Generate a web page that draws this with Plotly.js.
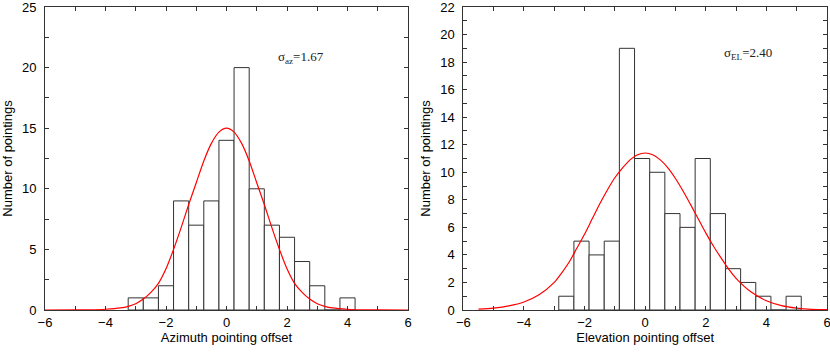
<!DOCTYPE html>
<html>
<head>
<meta charset="utf-8">
<script src="https://cdn.plot.ly/plotly-3.0.1.min.js"></script>
<style>
  html, body { margin: 0; padding: 0; background: #fff; }
  #chart { width: 830px; height: 353px; }
</style>
</head>
<body>
<div id="chart"></div>
<script>
// histogram bin centres and counts
var az_bins = [-3, -2.5, -2, -1.5, -1, -0.5, 0, 0.5, 1, 1.5, 2, 2.5, 3, 3.5, 4];
var az_counts = [1, 1, 2, 9, 7, 9, 14, 20, 10, 7, 6, 4, 2, 0, 1];

var el_bins = [-2.6, -2.1, -1.6, -1.1, -0.6, -0.1, 0.4, 0.9, 1.4, 1.9, 2.4, 2.9, 3.4, 3.9, 4.4, 4.9];
var el_counts = [1, 5, 4, 5, 19, 11, 10, 7, 6, 11, 7, 3, 2, 1, 0, 1];

// fitted curves
var az_fit_x = [-6, -5, -4.5, -4, -3.5, -3.25, -3, -2.75, -2.5, -2.25, -2, -1.75, -1.5, -1.25, -1, -0.75, -0.5, -0.25, 0,
                0.25, 0.5, 0.75, 1, 1.25, 1.5, 1.75, 2, 2.25, 2.5, 2.75, 3, 3.25, 3.5, 4, 4.5, 5, 6];
var az_fit_y = [0, 0.01, 0.02, 0.06, 0.17, 0.3, 0.52, 0.9, 1.45, 2.2, 3.4, 5.0, 6.8, 8.7, 10.5, 12.3, 13.75, 14.68, 15,
                14.68, 13.75, 12.3, 10.5, 8.7, 6.8, 5.0, 3.4, 2.2, 1.45, 0.9, 0.52, 0.3, 0.17, 0.06, 0.02, 0.01, 0];

var el_fit_x = [-5.5, -5, -4.5, -4, -3.5, -3, -2.75, -2.5, -2.25, -2, -1.75, -1.5, -1.25, -1, -0.75, -0.5, -0.25, 0,
                0.25, 0.5, 0.75, 1, 1.25, 1.5, 1.75, 2, 2.25, 2.5, 2.75, 3, 3.5, 4, 4.5, 5, 5.5, 6];
var el_fit_y = [0.06, 0.14, 0.3, 0.58, 1.1, 2.0, 2.7, 3.5, 4.5, 5.5, 6.6, 7.7, 8.7, 9.6, 10.3, 10.9, 11.27, 11.4,
                11.27, 10.9, 10.32, 9.55, 8.64, 7.65, 6.63, 5.6, 4.65, 3.8, 2.98, 2.3, 1.3, 0.67, 0.32, 0.14, 0.05, 0.02];

// tick labels
var x_tickvals = [-6, -5, -4, -3, -2, -1, 0, 1, 2, 3, 4, 5, 6];
var x_ticktext = ['\u22126', '', '\u22124', '', '\u22122', '', '0', '', '2', '', '4', '', '6'];
var az_y_tickvals = [0, 2.5, 5, 7.5, 10, 12.5, 15, 17.5, 20, 22.5, 25];
var az_y_ticktext = ['0', '', '5', '', '10', '', '15', '', '20', '', '25'];
var el_y_tickvals = [0, 1, 2, 3, 4, 5, 6, 7, 8, 9, 10, 11, 12, 13, 14, 15, 16, 17, 18, 19, 20, 21, 22];
var el_y_ticktext = ['0', '', '2', '', '4', '', '6', '', '8', '', '10', '', '12', '', '14', '', '16', '', '18', '', '20', '', '22'];

var barStyle = { color: '#ffffff', line: { color: '#333333', width: 1 } };
var fitStyle = { color: '#ff0000', width: 1.2, shape: 'spline', smoothing: 0.8 };

var data = [
    { type: 'bar', x: az_bins, y: az_counts, width: 0.5, marker: barStyle,
      xaxis: 'x', yaxis: 'y' },
    { type: 'scatter', mode: 'lines', x: az_fit_x, y: az_fit_y, line: fitStyle,
      xaxis: 'x', yaxis: 'y' },
    { type: 'bar', x: el_bins, y: el_counts, width: 0.5, marker: barStyle,
      xaxis: 'x2', yaxis: 'y2' },
    { type: 'scatter', mode: 'lines', x: el_fit_x, y: el_fit_y, line: fitStyle,
      xaxis: 'x2', yaxis: 'y2' }
];

var font = { family: 'Liberation Sans, Arial, sans-serif', size: 13, color: '#000' };

function xAxis(domain, anchor, title) {
    return {
        domain: domain, anchor: anchor, range: [-6, 6],
        tickmode: 'array', tickvals: x_tickvals, ticktext: x_ticktext,
        ticks: 'inside', ticklen: 4, tickcolor: '#333', mirror: 'allticks',
        showline: true, linecolor: '#333', linewidth: 1,
        showgrid: false, zeroline: false, ticklabelstandoff: 0,
        ticklabeloverflow: 'allow',
        tickfont: font,
        title: { text: title, font: font, standoff: 0 }
    };
}

function yAxis(range, vals, text, anchor) {
    return {
        domain: [0, 1], anchor: anchor, range: range,
        tickmode: 'array', tickvals: vals, ticktext: text,
        ticks: 'inside', ticklen: 4, tickcolor: '#333', mirror: 'allticks',
        showline: true, linecolor: '#333', linewidth: 1,
        showgrid: false, zeroline: false, ticklabelstandoff: 5,
        ticklabeloverflow: 'allow',
        tickfont: font,
        title: { text: 'Number of pointings', font: font, standoff: 6 }
    };
}

var layout = {
    width: 830, height: 353,
    margin: { l: 45, r: 3, t: 7, b: 43 },
    paper_bgcolor: '#fff', plot_bgcolor: '#fff',
    showlegend: false, bargap: 0,
    xaxis: xAxis([0, 0.4642], 'y', 'Azimuth pointing offset'),
    yaxis: yAxis([0, 25], az_y_tickvals, az_y_ticktext, 'x'),
    xaxis2: xAxis([0.5349, 1], 'y2', 'Elevation pointing offset'),
    yaxis2: yAxis([0, 22], el_y_tickvals, el_y_ticktext, 'x2'),
    annotations: [
        { xref: 'x', yref: 'y', x: 1.64, y: 20.8, xanchor: 'left', yanchor: 'middle',
          text: '\u03c3<sub>az</sub>=1.67', showarrow: false,
          font: { family: 'Liberation Serif, Times New Roman, serif', size: 13, color: '#222' } },
        { xref: 'x2', yref: 'y2', x: 2.53, y: 18.6, xanchor: 'left', yanchor: 'middle',
          text: '\u03c3<sub>EL</sub>=2.40', showarrow: false,
          font: { family: 'Liberation Serif, Times New Roman, serif', size: 13, color: '#222' } }
    ]
};

Plotly.newPlot('chart', data, layout, { displayModeBar: false, staticPlot: true });
</script>
</body>
</html>
